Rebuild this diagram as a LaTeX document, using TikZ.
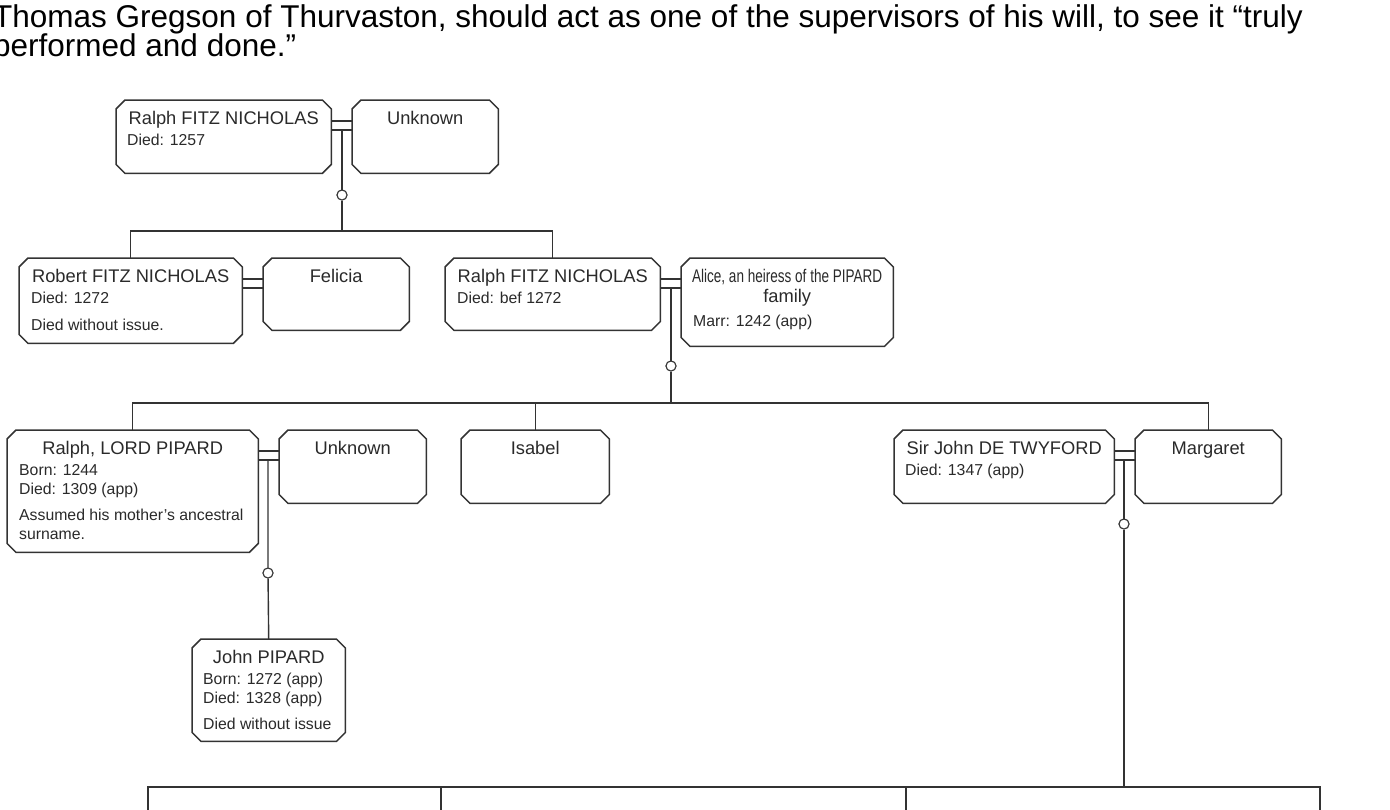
\documentclass[tikz,border=0pt]{standalone}
\usepackage{fontspec}
\setmainfont{Liberation Sans}
\usetikzlibrary{positioning}

\definecolor{ln}{HTML}{333333}
\definecolor{txt}{HTML}{2A2A2A}

\newcommand{\namefont}{\fontsize{18.3}{21}\selectfont}
\newcommand{\detfont}{\fontsize{15.8}{18}\selectfont}
\newcommand{\headfont}{\fontsize{31.5}{36}\selectfont}

% chamfered outline round an (empty) box node
\newcommand{\cutbox}[1]{%
  \draw[boxline] ([xshift=9pt]#1.north west) -- ([xshift=-9pt]#1.north east)
    -- ([yshift=-9pt]#1.north east) -- ([yshift=9pt]#1.south east)
    -- ([xshift=-9pt]#1.south east) -- ([xshift=9pt]#1.south west)
    -- ([yshift=9pt]#1.south west) -- ([yshift=-9pt]#1.north west) -- cycle;}

\tikzset{
  box/.style={rectangle, inner sep=0pt, anchor=north west, minimum height=73pt},
  boxline/.style={draw=ln, line width=1.5pt, fill=white},
  nm/.style={font=\namefont, text=txt, anchor=base, inner sep=0pt},
  dt/.style={font=\detfont, text=txt, anchor=base west, inner sep=0pt},
  link/.style={draw=ln, line width=1.4pt},
  knot/.style={circle, draw=ln, fill=white, line width=1pt, minimum size=10pt, inner sep=0pt},
}

\begin{document}
\begin{tikzpicture}[x=1pt, y=-1pt]
  \useasboundingbox (0,0) rectangle (1390,809);
  \fill[white] (0,0) rectangle (1390,809);

  % Text above the chart
  \node[font=\headfont, anchor=base west, inner sep=0pt] (head1) at (-7,27)
    {Thomas Gregson of Thurvaston, should act as one of the supervisors of his will, to see it “truly};
  \node[font=\headfont, anchor=base west, inner sep=0pt] (head2) at (-7,56)
    {performed and done.”};

  % Boxes
  \node[box, minimum width=215pt] (rfn1) at (116,100) {};
  \node[box, minimum width=146pt] (unk1) at (352,100) {};
  \node[box, minimum width=223pt, minimum height=85pt] (rob) at (19,258) {};
  \node[box, minimum width=146pt, minimum height=72pt] (fel) at (263,258) {};
  \node[box, minimum width=215pt, minimum height=72pt] (rfn2) at (445,258) {};
  \node[box, minimum width=212pt, minimum height=88pt] (ali) at (681,258) {};
  \node[box, minimum width=251pt, minimum height=122pt] (rlp) at (7,430) {};
  \node[box, minimum width=147pt] (unk2) at (279,430) {};
  \node[box, minimum width=148pt] (isa) at (461,430) {};
  \node[box, minimum width=220pt] (jdt) at (894,430) {};
  \node[box, minimum width=146pt] (mar) at (1135,430) {};
  \node[box, minimum width=153pt, minimum height=102pt] (jp) at (192,639) {};
  \foreach \b in {rfn1,unk1,rob,fel,rfn2,ali,rlp,unk2,isa,jdt,mar,jp}
    \cutbox{\b};

  % Names
  \node[nm] (rfn1-n) at ([yshift=-24pt]rfn1.north) {Ralph FITZ NICHOLAS};
  \node[nm] (unk1-n) at ([yshift=-24pt]unk1.north) {Unknown};
  \node[nm] (rob-n) at ([yshift=-24pt]rob.north) {Robert FITZ NICHOLAS};
  \node[nm] (fel-n) at ([yshift=-24pt]fel.north) {Felicia};
  \node[nm] (rfn2-n) at ([yshift=-24pt]rfn2.north) {Ralph FITZ NICHOLAS};
  \node[nm] (ali-n) at ([yshift=-24pt]ali.north) {\scalebox{0.74}[1]{Alice, an heiress of the PIPARD}};
  \node[nm] (ali-n2) at ([yshift=-44pt]ali.north) {family};
  \node[nm] (rlp-n) at ([yshift=-24pt]rlp.north) {Ralph, LORD PIPARD};
  \node[nm] (unk2-n) at ([yshift=-24pt]unk2.north) {Unknown};
  \node[nm] (isa-n) at ([yshift=-24pt]isa.north) {Isabel};
  \node[nm] (jdt-n) at ([yshift=-24pt]jdt.north) {Sir John DE TWYFORD};
  \node[nm] (mar-n) at ([yshift=-24pt]mar.north) {Margaret};
  \node[nm] (jp-n) at ([yshift=-24pt]jp.north) {John PIPARD};

  % Details
  \node[dt] (rfn1-d) at ([xshift=11pt,yshift=-45pt]rfn1.north west) {Died: 1257};
  \node[dt] (rob-d) at ([xshift=12pt,yshift=-45pt]rob.north west) {Died: 1272};
  \node[dt] (rob-x) at ([xshift=12pt,yshift=-72pt]rob.north west) {Died without issue.};
  \node[dt] (rfn2-d) at ([xshift=12pt,yshift=-45pt]rfn2.north west) {Died: bef 1272};
  \node[dt] (ali-d) at ([xshift=12pt,yshift=-68pt]ali.north west) {Marr: 1242 (app)};
  \node[dt] (rlp-b) at ([xshift=12pt,yshift=-45pt]rlp.north west) {Born: 1244};
  \node[dt] (rlp-d) at ([xshift=12pt,yshift=-64pt]rlp.north west) {Died: 1309 (app)};
  \node[dt] (rlp-x) at ([xshift=12pt,yshift=-90pt]rlp.north west) {Assumed his mother's ancestral};
  \node[dt] (rlp-y) at ([xshift=12pt,yshift=-109pt]rlp.north west) {surname.};
  \node[dt] (jdt-d) at ([xshift=11pt,yshift=-45pt]jdt.north west) {Died: 1347 (app)};
  \node[dt] (jp-b) at ([xshift=11pt,yshift=-45pt]jp.north west) {Born: 1272 (app)};
  \node[dt] (jp-d) at ([xshift=11pt,yshift=-64pt]jp.north west) {Died: 1328 (app)};
  \node[dt] (jp-x) at ([xshift=11pt,yshift=-90pt]jp.north west) {Died without issue};

  % Marriages
  \foreach \h/\w in {rfn1/unk1, rob/fel, rfn2/ali, rlp/unk2, jdt/mar} {
    \draw[link] ([yshift=-21pt]\h.north east) -- ([yshift=-21pt]\w.north west);
    \draw[link] ([yshift=-30pt]\h.north east) -- ([yshift=-30pt]\w.north west);
  }
  \coordinate (w1) at ([yshift=-30pt]rfn1.north east);
  \coordinate (w2) at ([yshift=-30pt]rfn2.north east);
  \coordinate (w3) at ([yshift=-30pt]rlp.north east);
  \coordinate (w4) at ([yshift=-30pt]jdt.north east);

  % Lines of descent
  \node[knot] (k1) at (342,195) {};
  \node[knot] (k2) at (671,366) {};
  \node[knot] (k3) at (268,573) {};
  \node[knot] (k4) at (1124,524) {};
  \coordinate (bar1) at (342,231);
  \coordinate (bar2) at (671,403);
  \coordinate (bar3) at (1124,787);
  \coordinate (kid1) at (148,815);
  \coordinate (kid2) at (441,815);
  \coordinate (kid3) at (906,815);
  \coordinate (kid4) at (1320,815);

  \draw[link] (k1 |- w1) -- (k1) -- (bar1);
  \draw[link] (rob.north) |- (bar1) -| (rfn2.north);

  \draw[link] (k2 |- w2) -- (k2) -- (bar2);
  \draw[link] (rlp.north) |- (bar2) -| (mar.north);
  \draw[link] (isa.north) -- (isa.north |- bar2);

  \draw[link] (k3 |- w3) -- (k3) -- (jp.north);

  \draw[link] (k4 |- w4) -- (k4) -- (bar3);
  \draw[link] (kid1) |- (bar3) -| (kid4);
  \draw[link] (kid2) -- (kid2 |- bar3);
  \draw[link] (kid3) -- (kid3 |- bar3);

  % knots on top again
  \foreach \k in {k1,k2,k3,k4}
    \node[knot] at (\k) {};
\end{tikzpicture}
\end{document}
